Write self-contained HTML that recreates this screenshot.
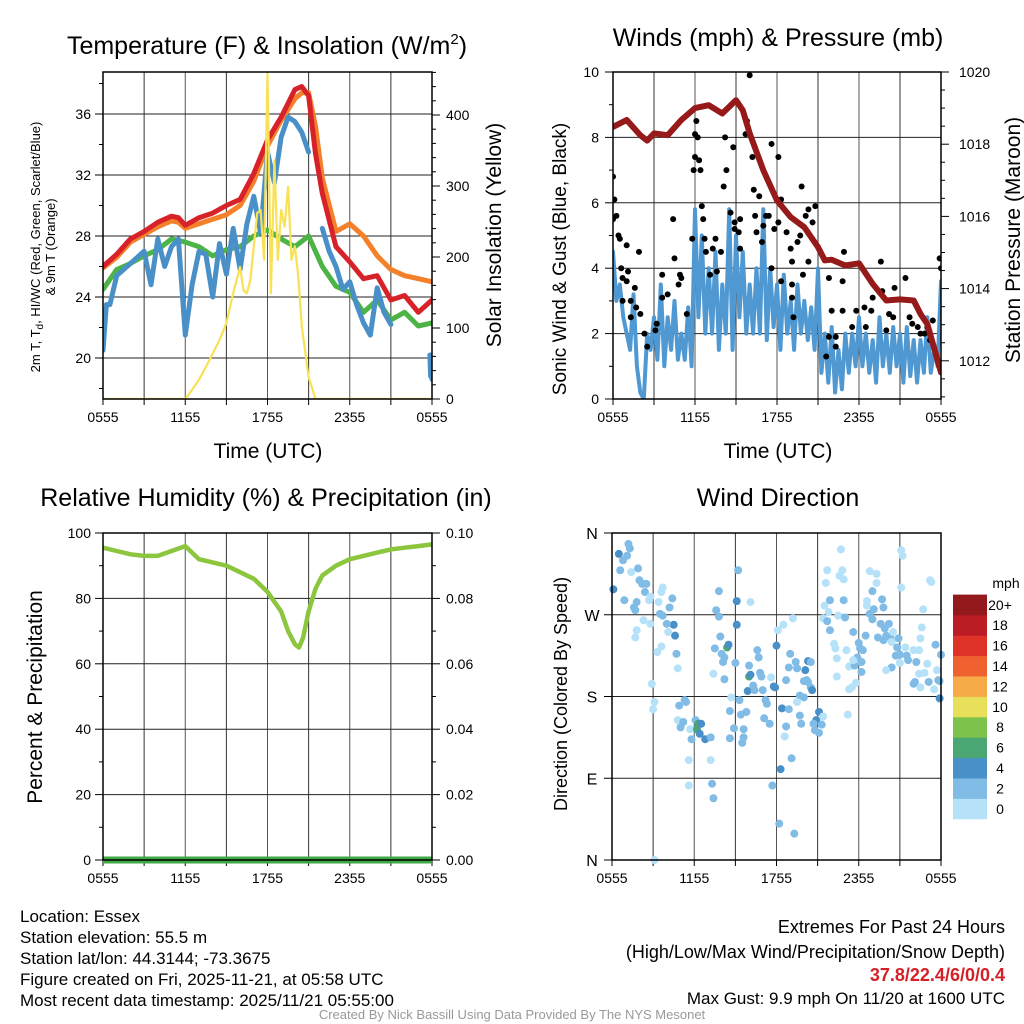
<!DOCTYPE html>
<html><head><meta charset="utf-8"><style>
body{margin:0;background:#fff}
svg{display:block;font-family:"Liberation Sans",sans-serif}
</style></head><body>
<svg id="fig" width="1024" height="1024" viewBox="0 0 1024 1024" xmlns="http://www.w3.org/2000/svg">
<defs>
<clipPath id="c1"><rect x="103" y="72" width="329" height="327"/></clipPath>
<clipPath id="c2"><rect x="613" y="72" width="328" height="327"/></clipPath>
</defs>
<!-- titles -->
<text x="267" y="54" font-size="25" text-anchor="middle">Temperature (F) &amp; Insolation (W/m<tspan font-size="15" dy="-10">2</tspan><tspan dy="10">)</tspan></text>
<text x="778" y="46" font-size="25" text-anchor="middle">Winds (mph) &amp; Pressure (mb)</text>
<text x="266" y="506" font-size="25" text-anchor="middle">Relative Humidity (%) &amp; Precipitation (in)</text>
<text x="778" y="506" font-size="25" text-anchor="middle">Wind Direction</text>
<!-- axis titles -->
<text transform="translate(40,247) rotate(-90)" font-size="13" text-anchor="middle">2m T, T<tspan font-size="10" dy="3">d</tspan><tspan dy="-3">, HI/WC (Red, Green, Scarlet/Blue)</tspan></text>
<text transform="translate(55,247) rotate(-90)" font-size="13" text-anchor="middle">&amp; 9m T (Orange)</text>
<text transform="translate(501,235) rotate(-90)" font-size="21" text-anchor="middle">Solar Insolation (Yellow)</text>
<text x="268" y="458" font-size="21" text-anchor="middle">Time (UTC)</text>
<text transform="translate(566,259) rotate(-90)" font-size="19" text-anchor="middle">Sonic Wind &amp; Gust (Blue, Black)</text>
<text transform="translate(1020,240) rotate(-90)" font-size="21" text-anchor="middle">Station Pressure (Maroon)</text>
<text x="778" y="458" font-size="21" text-anchor="middle">Time (UTC)</text>
<text transform="translate(42,697) rotate(-90)" font-size="21" text-anchor="middle">Percent &amp; Precipitation</text>
<text transform="translate(567,694) rotate(-90)" font-size="18" text-anchor="middle">Direction (Colored By Speed)</text>
<!-- footer -->
<g font-size="17">
<text x="20" y="922">Location: Essex</text>
<text x="20" y="943">Station elevation: 55.5 m</text>
<text x="20" y="964">Station lat/lon: 44.3144; -73.3675</text>
<text x="20" y="985">Figure created on Fri, 2025-11-21, at 05:58 UTC</text>
<text x="20" y="1006">Most recent data timestamp: 2025/11/21 05:55:00</text>
</g>
<g font-size="18" text-anchor="end">
<text x="1005" y="933">Extremes For Past 24 Hours</text>
<text x="1005" y="958">(High/Low/Max Wind/Precipitation/Snow Depth)</text>
<text x="1005" y="981" fill="#d42128" font-weight="bold">37.8/22.4/6/0/0.4</text>
<text x="1005" y="1004" font-size="17">Max Gust: 9.9 mph On 11/20 at 1600 UTC</text>
</g>
<text x="512" y="1019" font-size="13" fill="#999" text-anchor="middle">Created By Nick Bassill Using Data Provided By The NYS Mesonet</text>
<g id="layer"></g>
</svg>
<script>
// ---------- data ----------
const xTickLabels = ["0555","1155","1755","2355","0555"];
const tempTicks = [20,24,28,32,36];
const insolTicks = [0,100,200,300,400];
const redHours = [0,1,2,3,4,5,5.5,6,7,8,9,10,11,12,13,14,14.5,15,15.5,16,17,18,19,20,21,22,23,24];
const redTemp = [26.0,26.8,27.8,28.3,28.9,29.3,29.2,28.7,29.2,29.5,30.0,30.4,32.1,34.3,35.8,37.6,37.8,37.2,33.4,30.8,27.3,26.3,25.2,25.4,23.8,24.1,23.0,23.8];
const orangeTemp = [25.9,26.6,27.6,28.1,28.6,29.0,28.9,28.5,28.8,29.1,29.4,30.0,31.6,33.9,35.6,37.0,37.4,37.4,35.2,31.8,28.3,28.8,28.0,26.7,25.8,25.4,25.2,25.0];
const greenHours = [0,1,2,3,4,5,6,7,8,9,10,11,12,13,14,15,16,17,18,19,20,21,22,23,24];
const greenDew = [24.5,25.8,26.2,26.7,27.1,27.8,27.6,27.3,26.7,27.1,27.3,28.0,28.4,27.8,27.3,28.0,26.0,24.7,24.3,23.0,23.8,22.5,23.0,22.1,22.3];
const blueHours = [0,0.25,0.5,1,1.5,2,2.5,3,3.5,4,4.5,5,5.5,6,6.5,7,7.5,8,8.5,9,9.5,10,10.5,11,11.5,12,12.5,13,13.5,14,14.5,15,15.5,16,16.5,17,17.5,18,18.5,19,19.5,20,20.5,21,21.5];
const blueChill = [20.5,23.5,23.5,25.4,25.8,26.2,26.6,27.0,24.8,27.8,26.0,27.3,27.8,21.5,24.8,27.0,26.8,24.0,27.5,25.5,28.5,25.8,28.8,30.6,28.2,33.5,31.5,34.5,35.8,35.5,34.8,33.5,null,28.5,27.0,26.0,24.5,25.0,23.5,22.3,21.5,24.6,23.0,22.2,null];
const blueTailHours = [23.85,23.9,23.95,24];
const blueTailChill = [20.2,18.8,19.8,18.6];
const insolHours = [0,6,6.5,7,7.5,8,8.5,9,9.5,10,10.25,10.5,10.75,11,11.25,11.5,11.75,12,12.1,12.25,12.5,12.75,13,13.25,13.5,13.75,14,14.25,14.5,15,15.5,24];
const insolation = [0,0,13,27,45,64,83,107,149,186,153,149,168,215,262,266,196,458,336,149,336,196,266,243,299,196,215,172,102,31,0,0];

const windTicks = [0,2,4,6,8,10];
const pressTicks = [1012,1014,1016,1018,1020];
const windSpeed = [4.5,3.0,3.5,2.5, 2.0,1.5,3.2,1.0, 0.2,0.0,2.0,1.5, 2.5,1.2,3.5,1.0, 2.5,1.5,3.0,1.2, 2.0,1.2,2.8,1.0, 5.8,2.5,5.0,2.0, 4.0,2.0,4.5,1.5, 3.5,2.0,5.8,1.5, 5.0,2.5,4.5,2.0, 3.5,2.0,4.0,2.0, 5.8,1.8,4.0,2.2, 3.5,1.5,3.8,2.0, 3.0,1.5,3.5,2.0, 3.0,1.8,2.8,1.5, 4.0,0.8,2.0,0.5, 2.2,0.2,1.5,0.3, 2.0,0.8,2.0,1.0, 2.5,1.0,2.0,0.8, 1.8,0.5,2.5,1.0, 2.0,0.8,2.2,1.0, 2.0,0.5,2.2,0.7, 1.8,0.5,1.8,0.8, 2.5,0.8,1.5,1.0, 3.6];
const gustHours = [0,0.1,0,0.25,0.4,0.5,1,1.9,0.6,1.1,0.7,1.0,0.7,1.6,1.3,1.7,2.0,1.3,2.3,2.5,3.2,3.1,3.6,4.4,4.5,3.6,4.0,4.9,4.8,5.0,5.4,5.8,5.9,6.0,6.1,6.0,6.2,6.3,6.4,6.5,6.6,6.7,6.8,7.1,7.3,7.5,7.6,7.9,8.1,8.2,8.3,8.6,8.8,8.9,8.9,9.2,9.3,9.3,9.7,9.8,10.0,10.2,10.3,10.4,10.5,10.7,10.9,11.2,11.4,11.0,11.6,11.8,12.1,12.1,12.3,12.7,13.0,13.1,13.5,13.8,13.7,14.1,14.3,14.6,14.8,14.3,13.9,13.1,12.3,11.6,13.1,13.2,15.8,16.9,16.8,16.0,16.3,16.3,16.8,17.8,17.5,18.4,18.5,18.9,19.0,19.6,19.7,20.2,20.5,20.6,20.0,21.4,21.7,21.9,22.3,22.5,22.8,23.0,23.2,23.4,23.9,24,15.8,15.6];
const gustSpeed = [6.8,6.1,5.5,5.6,5.0,4.9,4.7,4.5,4.0,3.9,3.7,3.6,3.0,3.4,3.0,2.8,2.6,2.5,2.0,1.6,2.3,2.1,3.8,5.5,4.3,3.1,3.2,3.8,3.5,3.7,2.6,4.9,7.0,7.4,8.5,8.1,8.0,7.3,7.0,5.9,5.5,4.9,4.5,3.8,4.6,4.9,3.9,4.5,6.5,8.0,7.0,5.7,7.7,5.2,5.4,5.1,5.5,4.6,8.1,8.5,9.9,7.4,6.4,5.6,5.1,6.2,4.8,5.6,5.6,5.3,7.8,5.2,7.4,5.4,6.1,5.1,4.6,4.2,4.8,6.5,5.0,5.6,5.8,5.4,5.9,4.2,3.8,3.5,3.6,4.0,3.1,2.5,3.7,4.5,3.6,2.7,1.9,1.6,2.7,2.7,2.2,2.8,2.2,2.7,3.1,4.2,3.3,2.6,2.5,3.4,2.1,3.7,2.5,2.3,2.2,2.0,2.0,2.2,1.8,2.4,4.3,4.0,1.9,1.3];
const pressHours = [0,1,2,2.5,3,4,5,6,7,8,9,9.5,10,11,12,13,14,15,15.5,16,17,18,19,20,21,22,22.5,23,24];
const pressure = [1018.48,1018.67,1018.25,1018.1,1018.3,1018.25,1018.67,1019.0,1019.08,1018.85,1019.22,1018.94,1018.3,1017.28,1016.44,1015.98,1015.7,1015.15,1014.78,1014.8,1014.64,1014.7,1014.13,1013.67,1013.7,1013.67,1013.3,1013.02,1011.68];

const rhTicks = [0,20,40,60,80,100];
const precipTicks = ["0.00","0.02","0.04","0.06","0.08","0.10"];
const rhHours = [0,1,2,3,4,5,6,7,8,9,10,11,12,13,13.5,14,14.3,14.6,15,15.5,16,17,18,19,20,21,22,23,24];
const rh = [95.5,94.5,93.5,93,93,94.5,96,92,91,90,88,86,82,76,70,66,65,68,76,83,87,90,92,93,94,95,95.5,96,96.5];
const precip = [0,0];
const precipHours = [0,24];

const dirLabels = ["N","E","S","W","N"];
const dirTickDeg = [0,90,180,270,360];
const dirHours = [0.1,0.5,0.8,1.1,1.2,1.3,0.6,0.9,1.4,1.9,2.0,2.2,2.4,2.5,1.6,1.7,1.8,2.8,2.7,3.6,3.7,3.4,3.5,3.7,4.2,4.4,4.5,4.6,4.0,4.1,2.8,2.3,1.8,1.7,3.3,3.6,4.7,4.8,2.9,3.1,3.0,
4.9,5.3,5.4,4.8,5.2,5.0,5.7,6.1,6.3,6.2,6.5,6.4,6.8,7.2,5.8,5.6,7.2,7.3,7.4,5.6,3.1,7.8,7.6,7.8,7.9,8.0,8.2,8.4,8.5,7.5,8.1,8.2,7.4,9.0,9.1,9.1,9.2,10.1,8.7,8.6,8.9,8.6,9.3,9.4,9.8,9.6,9.6,9.5,10.0,10.1,9.9,10.0,10.3,10.4,
10.6,10.7,10.8,10.9,11.0,11.2,11.3,11.1,11.5,11.6,11.8,11.9,12.0,12.1,12.5,13.2,13.0,12.9,12.7,12.4,12.9,12.7,12.6,12.3,11.7,12.2,13.3,13.1,13.4,13.5,13.7,14.0,14.1,14.3,14.2,14.5,14.6,14.3,14.5,13.7,13.8,13.5,14.0,14.9,14.7,14.8,15.1,15.1,15.3,15.4,15.7,15.6,15.5,15.9,15.8,15.4,15.7,15.9,16.2,16.3,16.4,16.4,16.5,16.7,16.6,16.8,16.9,16.9,17.0,17.1,17.3,17.3,17.5,17.2,17.6,17.7,17.9,18.0,18.1,18.2,18.2,18.3,17.8,17.6,
18.8,19.0,18.6,18.6,18.8,19.0,19.1,19.3,19.3,19.7,19.8,18.5,19.6,19.9,20.0,20.2,20.3,19.8,19.4,20.4,20.5,20.8,20.9,20.7,21.0,21.4,21.5,21.6,20.4,20.0,21.0,22.0,22.2,22.4,22.5,22.6,22.7,22.1,22.0,22.4,22.5,22.8,23.1,23.0,23.2,23.3,21.1,21.2,21.1,23.5,23.6,23.7,23.8,23.9,24.0,23.9];
const dirDeg = [298,337,330,335,348,343,319,286,317,321,308,304,295,304,278,275,284,290,286,295,300,284,271,269,278,288,259,247,260,251,260,264,253,245,229,235,227,211,194,174,166,
170,176,174,154,152,146,144,154,150,144,150,139,133,135,133,110,110,84,68,82,0,296,275,268,246,227,223,234,237,233,218,199,205,217,259,285,319,284,179,164,145,134,176,160,163,144,135,129,202,204,186,214,192,187,
231,223,206,202,187,176,172,156,150,201,191,190,236,253,259,266,227,212,198,167,166,147,136,100,82,40,29,112,218,211,181,197,209,219,198,190,187,196,218,159,150,174,179,154,150,143,140,163,149,158,319,305,280,286,273,266,263,253,238,233,222,202,269,342,313,319,309,286,267,231,213,188,190,160,251,214,223,239,233,207,218,231,195,220,
318,296,285,280,271,265,276,315,305,287,278,247,260,255,247,260,245,242,245,240,251,234,244,225,226,234,225,220,212,209,217,231,218,231,244,256,276,196,194,205,190,206,196,216,308,306,341,335,300,188,237,209,198,197,226,178];
const dirSpeed = [5,5,3,3,3,3,3,3,1,3,3,3,3,3,3,3,3,1,1,1,1,1,3,3,3,3,5,5,3,1,1,1,1,1,1,1,3,1,1,1,1,
3,3,3,1,3,3,1,3,7,7,5,5,5,3,3,1,1,3,3,1,1,3,3,3,3,3,3,7,5,3,3,3,1,3,5,5,3,1,1,3,3,3,3,3,3,3,3,3,7,5,5,3,3,3,
3,3,3,3,3,3,3,3,3,1,5,5,5,1,1,1,3,3,3,5,3,3,1,5,3,3,3,3,3,3,3,3,5,5,3,3,5,3,3,3,3,1,3,5,3,3,3,5,3,1,1,1,1,3,1,1,3,3,1,1,1,1,1,1,1,1,1,3,3,1,1,1,1,1,3,3,3,3,3,3,3,3,1,1,
1,3,1,1,3,3,3,1,1,3,3,3,3,3,3,3,3,3,3,1,1,3,3,3,3,1,3,3,3,1,1,1,3,1,1,1,1,3,3,1,1,1,3,1,1,1,1,1,1,1,3,1,3,3,3,5];
const cbLabels = ["0","2","4","6","8","10","12","14","16","18","20+"];
const cbColors = ["#b5e2f8","#80bce6","#4a90c8","#4aa672","#7dc24b","#e8e05a","#f6aa48","#ef6230","#df3328","#bc1c24","#931a1c"];

// ---------- helpers ----------
const NS="http://www.w3.org/2000/svg";
const layer=document.getElementById('layer');
function mk(tag,attrs,parent){const e=document.createElementNS(NS,tag);for(const k in attrs)e.setAttribute(k,attrs[k]);(parent||layer).appendChild(e);return e;}
function pathFrom(xs,ys,fx,fy){let d="",pen=false;for(let i=0;i<xs.length;i++){if(ys[i]===null||ys[i]===undefined){pen=false;continue;}d+=(pen?"L":"M")+fx(xs[i]).toFixed(1)+" "+fy(ys[i]).toFixed(1);pen=true;}return d;}
function txt(x,y,s,size,anchor,parent){const t=mk('text',{x:x,y:y,'font-size':size,'text-anchor':anchor||'middle'},parent);t.textContent=s;return t;}

function frame(x0,y0,x1,y1,name,hLines){
  const g=mk('g',{});
  
  
  for(let k=1;k<8;k++){const x=x0+(x1-x0)*k/8;mk('line',{x1:x,y1:y0,x2:x,y2:y1,stroke:(k%2?'#333':'#555'),'stroke-width':1},g);}
  hLines.forEach(y=>mk('line',{x1:x0,y1:y,x2:x1,y2:y,stroke:'#222','stroke-width':1},g));
  for(let k=0;k<=8;k++){const x=x0+(x1-x0)*k/8;mk('line',{x1:x,y1:y1,x2:x,y2:y1+6,stroke:'#000','stroke-width':1},g);}
  xTickLabels.forEach((s,i)=>{const t=txt(x0+(x1-x0)*i/4,y1+23,s,14,'middle',g);
    
    });
  return g;
}
function border(x0,y0,x1,y1,name){const r=mk('rect',{x:x0,y:y0,width:x1-x0,height:y1-y0,fill:'none',stroke:'#000','stroke-width':1.5});
  
  }

// ---------- panel 1: temperature ----------
{
const x0=103,x1=432,y0=72,y1=399;
const fx=h=>x0+(x1-x0)*h/24;
const fy=t=>114+(36-t)*15.25;
const fi=v=>399-v*0.71;
frame(x0,y0,x1,y1,'temperature',tempTicks.map(fy));
tempTicks.forEach(t=>{const y=fy(t);mk('line',{x1:x0-8,y1:y,x2:x0,y2:y,stroke:'#000'});
  const l=txt(x0-12,y+5,String(t),14,'end');
  
  });
for(let t=18;t<=38;t+=2){if(t%4)mk('line',{x1:x0-4,y1:fy(t),x2:x0,y2:fy(t),stroke:'#000'});}
for(let v=0;v<=460;v+=20){mk('line',{x1:x1,y1:fi(v),x2:x1+(v%100?4:8),y2:fi(v),stroke:'#000'});}
insolTicks.forEach(v=>{const l=txt(x1+14,fi(v)+5,String(v),14,'start');
  
  });
const g=mk('g',{'clip-path':'url(#c1)',fill:'none','stroke-linejoin':'round','stroke-linecap':'round'});
const gp=mk('path',{d:pathFrom(greenHours,greenDew,fx,fy),stroke:'#4cb445','stroke-width':5},g);


const op=mk('path',{d:pathFrom(redHours,orangeTemp,fx,fy),stroke:'#f4802a','stroke-width':5},g);


const rp=mk('path',{d:pathFrom(redHours,redTemp,fx,fy),stroke:'#d7222a','stroke-width':5},g);


const bp=mk('path',{d:pathFrom(blueHours,blueChill,fx,fy)+pathFrom(blueTailHours,blueTailChill,fx,fy),stroke:'#4a90c8','stroke-width':5},g);


const yp=mk('path',{d:pathFrom(insolHours,insolation,fx,fi),stroke:'#f9e155','stroke-width':2.2},g);


border(x0,y0,x1,y1,'temperature');
}

// ---------- panel 2: winds & pressure ----------
{
const x0=613,x1=941,y0=72,y1=399;
const fx=h=>x0+(x1-x0)*h/24;
const fw=v=>399-v*32.7;
const fp=p=>72+(1020-p)*36.1;
frame(x0,y0,x1,y1,'winds',windTicks.map(fw));
windTicks.forEach(v=>{mk('line',{x1:x0-8,y1:fw(v),x2:x0,y2:fw(v),stroke:'#000'});
  const l=txt(x0-14,fw(v)+5,String(v),14,'end');
  
  });
for(let v=1;v<10;v+=2)mk('line',{x1:x0-4,y1:fw(v),x2:x0,y2:fw(v),stroke:'#000'});
for(let p=1011;p<=1020;p+=0.5){mk('line',{x1:x1,y1:fp(p),x2:x1+(p%2===0?8:4),y2:fp(p),stroke:'#000'});}
pressTicks.forEach(p=>{const l=txt(x1+18,fp(p)+5,String(p),14,'start');
  
  });
const g=mk('g',{'clip-path':'url(#c2)','stroke-linejoin':'round','stroke-linecap':'round'});
const wh=windSpeed.map((v,i)=>i*0.25);
const wp=mk('path',{d:pathFrom(wh,windSpeed,fx,fw),fill:'none',stroke:'#4f98d2','stroke-width':4},g);


const gg=mk('g',{fill:'#000'},g);


gustHours.forEach((h,i)=>{const c=mk('circle',{cx:fx(h),cy:fw(gustSpeed[i]),r:3},gg);
  
  });
const pp=mk('path',{d:pathFrom(pressHours,pressure,fx,fp),fill:'none',stroke:'#961a1a','stroke-width':6},g);


border(x0,y0,x1,y1,'winds');
}

// ---------- panel 3: humidity ----------
{
const x0=103,x1=432,y0=533,y1=860;
const fx=h=>x0+(x1-x0)*h/24;
const fy=v=>860-v*3.27;
frame(x0,y0,x1,y1,'humidity',rhTicks.map(fy));
rhTicks.forEach(v=>{mk('line',{x1:x0-8,y1:fy(v),x2:x0,y2:fy(v),stroke:'#000'});
  const l=txt(x0-12,fy(v)+5,String(v),14,'end');
  
  });
precipTicks.forEach((s,i)=>{const y=fy(i*20);mk('line',{x1:x1,y1:y,x2:x1+8,y2:y,stroke:'#000'});
  const l=txt(x1+14,y+5,s,14,'start');
  
  });
for(let v=10;v<100;v+=20){mk('line',{x1:x0-4,y1:fy(v),x2:x0,y2:fy(v),stroke:'#000'});mk('line',{x1:x1,y1:fy(v),x2:x1+4,y2:fy(v),stroke:'#000'});}
const rp=mk('path',{d:pathFrom(rhHours,rh,fx,fy),fill:'none',stroke:'#8cc63f','stroke-width':4.5,'stroke-linejoin':'round'});


const pp=mk('path',{d:pathFrom(precipHours,precip,fx,v=>860-v*3270),fill:'none',stroke:'#3fa845','stroke-width':7});


border(x0,y0,x1,y1,'humidity');
}

// ---------- panel 4: wind direction ----------
{
const x0=612,x1=941,y0=533,y1=860;
const fx=h=>x0+(x1-x0)*h/24;
const fy=d=>860-d*0.9083;
frame(x0,y0,x1,y1,'direction',dirTickDeg.map(fy));
dirTickDeg.forEach((d,i)=>{mk('line',{x1:x0-8,y1:fy(d),x2:x0,y2:fy(d),stroke:'#000'});
  const l=txt(x0-20,fy(d)+6,dirLabels[i],16,'middle');
  
  });
const spdColor=s=>cbColors[Math.min(10,Math.floor(s/2))];
const g=mk('g',{});


dirHours.forEach((h,i)=>{const c=mk('circle',{cx:fx(h),cy:fy(dirDeg[i]),r:4,fill:spdColor(dirSpeed[i])},g);
  
  });
border(x0,y0,x1,y1,'direction');
const cb=mk('g',{});


txt(1006,588,'mph',14,'middle',cb);
const bh=20.4, cbBottom=819;
cbColors.forEach((c,i)=>{const y=cbBottom-(i+1)*bh;
  const r=mk('rect',{x:953,y:y,width:34,height:bh+0.3,fill:c},cb);
  
  
  const l=txt(1000,y+bh/2+5,cbLabels[i],14,'middle',cb);
  
  });
}
</script>
</body></html>
